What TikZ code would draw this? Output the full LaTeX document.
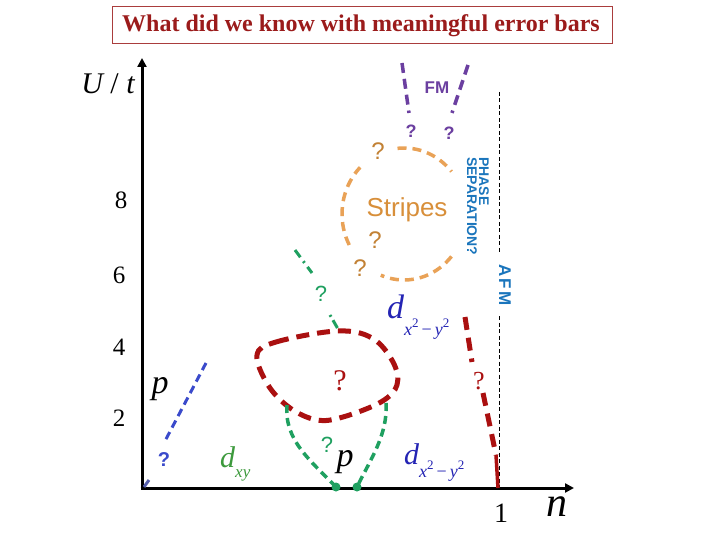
\documentclass[tikz,border=0pt]{standalone}
\usepackage{fontspec}
\setmainfont{Liberation Serif}
\setsansfont{Liberation Sans}
\usetikzlibrary{arrows.meta}
\definecolor{titlered}{HTML}{9B1B1B}
\definecolor{fmpurple}{HTML}{6B3FA0}
\definecolor{orangedash}{HTML}{E9A257}
\definecolor{orangetext}{HTML}{D88F3A}
\definecolor{phaseblue}{HTML}{1A75BC}
\definecolor{blobred}{HTML}{AA1010}
\definecolor{dgreen}{HTML}{1FA060}
\definecolor{dxygreen}{HTML}{3D9A3D}
\definecolor{dblue}{HTML}{2424B4}
\definecolor{pblue}{HTML}{3A4ACB}
\newcommand{\fs}[1]{\fontsize{#1}{#1}\selectfont}
\begin{document}
\begin{tikzpicture}[x=1pt,y=-1pt,
  lbl/.style={inner sep=0pt},
  axisline/.style={line width=3pt,-{Triangle[length=9pt,width=9pt]}},
  orangeline/.style={orangedash,line width=3.5pt,dash pattern=on 9pt off 6pt},
  redline/.style={blobred,line width=5pt,dash pattern=on 13pt off 8pt},
  greenline/.style={dgreen,line width=3.5pt,dash pattern=on 8pt off 5pt},
  purpleline/.style={fmpurple,line width=3.5pt,dash pattern=on 10pt off 6pt},
  blueline/.style={pblue,line width=3pt,dash pattern=on 8pt off 5pt},
  thindash/.style={black,line width=0.9pt,dash pattern=on 4pt off 2.5pt},
]
\useasboundingbox (0,0) rectangle (720,540);
\fill[white] (0,0) rectangle (720,540);

% title
\node[draw=titlered!85,line width=0.9pt,minimum width=500pt,minimum height=37pt,inner sep=0pt] (titlebox) at (362,25) {};
\node[lbl,text=titlered,font=\bfseries\fs{24}] (title) at (361,26) {What did we know with meaningful error bars};

% axes
\coordinate (origin) at (142,488);
\coordinate (ytop) at (142,58);
\coordinate (xend) at (574,488);
\draw[axisline] (origin) -- (ytop);
\draw[axisline] ([xshift=-1.5pt]origin) -- (xend);

% axis labels
\node[lbl,font=\fs{30}] (ulabel) at (108,84) {\itshape U\upshape\ / \itshape t};
\node[lbl,font=\fs{25}] (t8) at (121,200) {8};
\node[lbl,font=\fs{25}] (t6) at (119,275) {6};
\node[lbl,font=\fs{25}] (t4) at (119,347) {4};
\node[lbl,font=\fs{25}] (t2) at (119,418) {2};
\node[lbl,font=\fs{28}] (t1) at (501,513) {1};
\node[lbl,font=\itshape\fs{42}] (nlabel) at (557,507) {n};

% AFM boundary
\coordinate (afmtop) at (499,92);
\coordinate (afmmid1) at (499,254);
\coordinate (afmmid2) at (499,316);
\coordinate (afmbot) at (499,487);
\draw[thindash] (afmtop) -- (afmmid1);
\draw[thindash] (afmmid2) -- (afmbot);
\node[lbl,rotate=-90,text=phaseblue,font=\sffamily\bfseries\fs{17}] (afm) at (505,285) {A\hspace{2.5pt}F\hspace{2.5pt}M};
\node[lbl,rotate=-90,anchor=north west,align=left,text=phaseblue,font=\sffamily\bfseries\fs{14}] (phase) at (489,157) {PHASE\\[-2pt]SEPARATION?};

% FM
\coordinate (fml1) at (402,63);
\coordinate (fml2) at (409,113);
\coordinate (fmr1) at (468,65);
\coordinate (fmr2) at (452,113);
\draw[purpleline] (fml1) -- (fml2);
\draw[purpleline] (fmr1) -- (fmr2);
\node[lbl,text=fmpurple,font=\sffamily\bfseries\fs{17}] (fm) at (437,88) {FM};
\node[lbl,text=fmpurple,font=\sffamily\bfseries\fs{18}] (fmq1) at (411,131) {?};
\node[lbl,text=fmpurple,font=\sffamily\bfseries\fs{18}] (fmq2) at (449,133) {?};

% stripes circle
\begin{scope}[shift={(404,214)}]
\draw[orangeline] plot[smooth,domain=96:40,samples=20] ({62*cos(\x)},{-66*sin(\x)});
\draw[orangeline] plot[smooth,domain=-40:-112,samples=20] ({62*cos(\x)},{-66*sin(\x)});
\draw[orangeline] plot[smooth,domain=-152:-225,samples=20] ({62*cos(\x)},{-66*sin(\x)});
\end{scope}
\node[lbl,text=orangetext,font=\sffamily\fs{26}] (stripes) at (407,210) {Stripes};
\node[lbl,text=orangetext!90!black,font=\sffamily\fs{24}] (sq1) at (378,151) {?};
\node[lbl,text=orangetext!90!black,font=\sffamily\fs{24}] (sq2) at (375,240) {?};
\node[lbl,text=orangetext!90!black,font=\sffamily\fs{24}] (sq3) at (360,268) {?};

% green dash-dot line
\coordinate (g1) at (295,250);
\coordinate (g2) at (312,273);
\coordinate (g3) at (330,315);
\coordinate (g4) at (338,329);
\draw[dgreen,line width=3pt,dash pattern=on 9pt off 5pt on 2pt off 5pt] (g1) -- (g2);
\draw[dgreen,line width=3pt,dash pattern=on 2pt off 4pt on 9pt off 3pt] (g3) -- (g4);
\node[lbl,text=dgreen,font=\sffamily\fs{22}] (gq1) at (321,294) {?};

% upper d
\node[lbl,anchor=base west,text=dblue] (dup) at (387,318) {{\fs{34}\itshape d}\raisebox{-17pt}{\fs{18}\itshape x\raisebox{8pt}{\upshape\fs{13}2}\upshape\,−\,\itshape y\raisebox{8pt}{\upshape\fs{13}2}}};

% red blob
\draw[redline] plot[smooth cycle,tension=0.6] coordinates {(257,355) (276,342) (337,331) (372,338) (393,362) (397,385) (381,402) (343,417) (317,420) (290,408) (268,385)};
\node[lbl,text=blobred,font=\fs{30}] (rq1) at (340,381) {?};

% red right boundary
\coordinate (r1) at (465,317);
\coordinate (r2) at (472,362);
\coordinate (r3) at (483,393);
\coordinate (r4) at (496,455);
\coordinate (r5) at (498,488);
\draw[redline] (r1) -- (r2);
\draw[redline] (r3) -- (r4);
\draw[blobred,line width=3.5pt] (r4) -- (r5);
\node[lbl,text=blobred,font=\fs{26}] (rq2) at (479,381) {?};

% green curves to dots
\coordinate (gdl) at (336,487);
\coordinate (gdr) at (357,487);
\draw[greenline] (287,405) .. controls (284,440) and (310,460) .. (gdl);
\draw[greenline] (386,403) .. controls (388,435) and (370,460) .. (gdr);
\fill[dgreen] (gdl) circle (4.5pt);
\fill[dgreen] (gdr) circle (4.5pt);
\node[lbl,text=dgreen,font=\sffamily\fs{22}] (gq2) at (327,445) {?};
\node[lbl,font=\itshape\fs{34}] (plow) at (345,462) {p};

% lower d
\node[lbl,anchor=base west,text=dblue] (dlow) at (404,464) {{\fs{30}\itshape d}\raisebox{-13pt}{\fs{18}\itshape x\raisebox{8pt}{\upshape\fs{13}2}\upshape\,−\,\itshape y\raisebox{8pt}{\upshape\fs{13}2}}};

% d_xy
\node[lbl,anchor=base west,text=dxygreen] (dxy) at (220,467) {{\fs{30}\itshape d}\raisebox{-10pt}{\fs{17}\itshape xy}};

% left p region
\node[lbl,font=\itshape\fs{34}] (pleft) at (160,389) {p};
\coordinate (b1) at (206,363);
\coordinate (b2) at (165,441);
\coordinate (b3) at (149,480);
\coordinate (b4) at (144,487);
\draw[blueline] (b1) -- (b2);
\draw[pblue!60!gray,line width=3pt] (b3) -- (b4);
\node[lbl,text=pblue,font=\sffamily\bfseries\fs{20}] (bq) at (164,460) {?};
\end{tikzpicture}
\end{document}
